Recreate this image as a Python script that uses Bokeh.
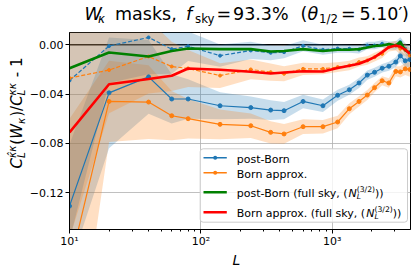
import math
from bokeh.plotting import figure
from bokeh.layouts import column, row
from bokeh.models import Label, BoxAnnotation, Span, FixedTicker, CustomJSTickFormatter, Range1d
from bokeh.embed import file_html
from bokeh.resources import INLINE

# ---------------- data ----------------
ell = [10, 20, 40, 60, 80, 140, 240, 340, 430, 600, 850, 1100, 1350, 1600,
       1850, 2100, 2400, 2700, 3050, 3300, 3600, 3900]

post_born = [-0.131, -0.039, -0.026, -0.044, -0.044, -0.0495, -0.051, -0.053,
             -0.0535, -0.046, -0.0495, -0.041, -0.0365, -0.031, -0.0246, -0.0223,
             -0.019, -0.0174, -0.014, -0.009, -0.013, -0.012]
born = [-0.18, -0.046, -0.0465, -0.0576, -0.060, -0.0646, -0.0657, -0.0711,
        -0.0724, -0.0665, -0.0665, -0.0627, -0.0519, -0.046, -0.0408, -0.0348,
        -0.0292, -0.031, -0.0216, -0.022, -0.0195, -0.020]
post_born_dash = [-0.029, -0.001, 0.006, -0.0035, -0.0012, -0.0088, -0.0046,
                  -0.0065, -0.006, -0.0008, -0.004, -0.003, -0.0032, -0.0038,
                  -0.0006, -0.0006, 0.0008, -0.0006, -0.0006, 0.0022, -0.0032, -0.006]
born_dash = [-0.027, -0.0205, -0.0095, -0.0176, -0.0192, -0.025, -0.020, -0.0222,
             -0.0235, -0.0195, -0.0195, -0.0181, -0.0168, -0.014, -0.0127, -0.010,
             -0.0073, -0.0018, -0.0006, -0.0032, -0.004, -0.0087]
post_born_full = [-0.019, -0.0062, -0.0095, -0.005, -0.003, -0.0035, -0.0035,
                  -0.0054, -0.005, -0.0035, -0.005, -0.004, -0.004, -0.0035,
                  -0.0022, -0.001, -0.0006, 0.0006, -0.0005, 0.0024, -0.0045, -0.0065]
born_full = [-0.0711, -0.032, -0.0278, -0.0251, -0.0192, -0.0203, -0.0219, -0.0233,
             -0.0225, -0.0215, -0.0217, -0.0189, -0.017, -0.0154, -0.0127, -0.010,
             -0.0059, -0.0019, -0.0005, -0.0015, -0.004, -0.0073]

err_post_born = [0.05, 0.045, 0.03, 0.02, 0.016, 0.011, 0.009, 0.008, 0.007, 0.0055,
                 0.005, 0.0045, 0.004, 0.004, 0.0038, 0.0036, 0.0035, 0.0036, 0.004,
                 0.0045, 0.005, 0.006]
err_born = [0.12, 0.033, 0.03, 0.02, 0.016, 0.012, 0.01, 0.009, 0.008, 0.006,
            0.0055, 0.005, 0.0045, 0.0042, 0.004, 0.0038, 0.0037, 0.0038, 0.004,
            0.0045, 0.005, 0.006]
err_post_born_dash = [0.13, 0.03, 0.03, 0.02, 0.012, 0.009, 0.007, 0.006, 0.005,
                      0.0045, 0.004, 0.0035, 0.0033, 0.0032, 0.003, 0.003, 0.003,
                      0.0032, 0.0035, 0.004, 0.0045, 0.005]
err_born_dash = [0.13, 0.035, 0.03, 0.02, 0.015, 0.01, 0.008, 0.007, 0.006, 0.005,
                 0.0045, 0.004, 0.0038, 0.0036, 0.0035, 0.0035, 0.0035, 0.0036,
                 0.004, 0.0045, 0.005, 0.006]

yticks = [-0.12, -0.08, -0.04, 0.0]

legend_labels = ["post-Born", "Born approx.",
                 "post-Born (full sky, (", "Born approx. (full sky, ("]

BLUE = "#1f77b4"
ORANGE = "#ff7f0e"
GREEN = "#008000"
RED = "#ff0000"
FONT = "DejaVu Sans"

# page layout (the page has no margin): title strip, [y-label strip | main plot], x-label strip
TITLE_H = 32
YLAB_W = 26
MAIN_W = 415 - YLAB_W
FRAME_H = 197
BOT = 21
MAIN_H = FRAME_H + BOT
XLAB_H = 267 - TITLE_H - MAIN_H


def blank(w, h):
    f = figure(width=w, height=h, output_backend="svg", toolbar_location=None,
               title=None, x_range=Range1d(0, 1), y_range=Range1d(0, 1),
               x_axis_location=None, y_axis_location=None, min_border=0)
    f.outline_line_color = None
    f.background_fill_color = "white"
    f.border_fill_color = "white"
    f.grid.visible = False
    return f


title_fig = blank(415, TITLE_H)
ylab_fig = blank(YLAB_W, MAIN_H)
xlab_fig = blank(415, XLAB_H)

# ---------------- main figure ----------------
p = figure(width=MAIN_W, height=MAIN_H, x_axis_type="log",
           x_range=Range1d(10, 3945), y_range=Range1d(-0.15, 0.01),
           output_backend="svg", toolbar_location=None, title=None,
           min_border_left=40, min_border_right=5, min_border_top=0,
           min_border_bottom=BOT)
p.background_fill_color = "white"
p.border_fill_color = "white"
p.outline_line_color = "black"
p.outline_line_width = 1


def band(y, e, color):
    lo = [a - b for a, b in zip(y, e)]
    hi = [a + b for a, b in zip(y, e)]
    p.varea(x=ell, y1=lo, y2=hi, fill_color=color, fill_alpha=0.25)


band(post_born, err_post_born, BLUE)
band(born, err_born, ORANGE)
band(post_born_dash, err_post_born_dash, BLUE)
band(born_dash, err_born_dash, ORANGE)

p.add_layout(Span(location=0, dimension="width", line_color="black",
                  line_width=1.5, level="underlay"))

p.line(ell, post_born, line_color=BLUE, line_width=1.2)
p.scatter(ell, post_born, size=4, color=BLUE)
p.line(ell, born, line_color=ORANGE, line_width=1.2)
p.scatter(ell, born, size=4, color=ORANGE)
p.line(ell, post_born_dash, line_color=BLUE, line_width=1.2, line_dash="4 2")
p.scatter(ell, post_born_dash, size=3, color=BLUE)
p.line(ell, born_dash, line_color=ORANGE, line_width=1.2, line_dash="4 2")
p.scatter(ell, born_dash, size=3, color=ORANGE)
p.line(ell, post_born_full, line_color=GREEN, line_width=2.6)
p.line(ell, born_full, line_color=RED, line_width=2.6)

# ---------------- axes ----------------
p.xaxis.formatter = CustomJSTickFormatter(code="""
const e = Math.round(Math.log10(tick));
const sup = {"0":"\u2070","1":"\u00b9","2":"\u00b2","3":"\u00b3","4":"\u2074","-":"\u207b"};
return "10" + String(e).split("").map(c => sup[c]).join("");
""")
p.yaxis.ticker = FixedTicker(ticks=yticks)
p.yaxis.formatter = CustomJSTickFormatter(
    code="return (tick < -1e-9 ? '\u2212' : '') + Math.abs(tick).toFixed(2);")

for ax in (p.xaxis[0], p.yaxis[0]):
    ax.axis_line_color = "black"
    ax.axis_line_width = 1
    ax.major_tick_line_color = "black"
    ax.minor_tick_line_color = "black"
    ax.major_tick_out = 4
    ax.major_tick_in = 0
    ax.minor_tick_out = 2
    ax.minor_tick_in = 0
    ax.major_label_text_font = FONT
    ax.major_label_text_font_size = "11px"
    ax.major_label_text_color = "black"
p.yaxis.minor_tick_line_color = None
p.yaxis.major_label_standoff = 2
p.xaxis.major_label_standoff = 1
p.grid.grid_line_color = "#b0b0b0"
p.grid.grid_line_width = 0.8

# ---------------- text helpers (page coordinates -> frame screen units) ----------------
CW = {' ': 318, '(': 390, ')': 390, ',': 318, '-': 361, '.': 318, '/': 337,
      '%': 950, '=': 838, '\u2032': 300, '\u0302': 0,
      'B': 686, 'C': 698, 'L': 557, 'N': 748, 'W': 989,
      'a': 613, 'b': 635, 'f': 352, 'k': 579, 'l': 278, 'm': 974, 'n': 634,
      'o': 612, 'p': 635, 'r': 411, 's': 521, 't': 392, 'u': 634, 'x': 592,
      'y': 592, '\u03ba': 590, '\u03b8': 602}


def tw(s, size):
    return sum(CW.get(c, 636) for c in s) / 1000.0 * size


def put(fig, org, text, X, Y, size, italic=False, vertical=False):
    """Place text with its alphabetic baseline at page point (X, Y)."""
    fl, fb = org
    d = 0.24 * size  # renderer puts the baseline about one descent lower
    if vertical:
        X = X - d
    else:
        Y = Y - d
    fig.add_layout(Label(x=X - fl, y=fb - Y, x_units="screen", y_units="screen",
                         text=text, angle=math.pi / 2 if vertical else 0.0,
                         text_font=FONT, text_font_size=f"{size}px",
                         text_font_style="italic" if italic else "normal",
                         text_color="black", text_align="left",
                         text_baseline="alphabetic"))


def compose(fig, org, items, X0, Y0, vertical=False):
    t = 0.0
    for group in items:
        if isinstance(group, (int, float)):
            t += group
            continue
        adv = 0.0
        for (s, size, ital, shift) in group:
            lead = len(s) - len(s.lstrip(" "))
            off = tw(s[:lead], size)
            body = s.strip(" ")
            if vertical:
                put(fig, org, body, X0 - shift, Y0 - t - off, size, ital, vertical=True)
            else:
                put(fig, org, body, X0 + t + off, Y0 - shift, size, ital)
            adv = max(adv, tw(s, size))
        t += adv


TITLE_ORG = (0.0, float(TITLE_H))
YLAB_ORG = (0.0, float(TITLE_H + MAIN_H))
MAIN_ORG = (66.0, 229.0)
XLAB_ORG = (0.0, 267.0)

# title: pieces at measured positions
TS, TSS, TB = 17.5, 11.8, 17.5
for (s, X, size, ital, shift) in [
        ("W", 84.0, TS, True, 0), ("\u03ba", 97.5, TSS, True, -3.5),
        ("masks,", 114.5, TS, False, 0), ("f", 185.5, TS, True, 0),
        ("sky", 194.5, TSS, False, -3.5), ("=", 216.0, TS, False, 0),
        ("93.3%", 232.5, TS, False, 0), ("(", 300.0, TS, False, 0),
        ("\u03b8", 307.0, TS, True, 0), ("1/2", 318.5, TSS, False, -3.5),
        ("=", 340.5, TS, False, 0), ("5.10\u2032", 359.0, TS, False, 0),
        (")", 401.5, TS, False, 0)]:
    put(title_fig, TITLE_ORG, s, X, TB - shift, size, ital)

# y axis label (vertical, reads bottom to top)
YS, YSS = 15, 10.5
compose(ylab_fig, YLAB_ORG,
        [[("C", YS, True, 0)],
         [("L", YSS, True, -2.5), ("\u03ba\u0302\u03ba", YSS, True, 6)], 1.0,
         [("(", YS, False, 0)], [("W", YS, True, 0)], [("\u03ba", YSS, True, -2.5)], 1.0,
         [(")", YS, False, 0)], [("/", YS, False, 0)], [("C", YS, True, 0)],
         [("L", YSS, True, -2.5), ("\u03ba\u03ba", YSS, True, 6)], 1.0,
         [(" - 1", YS, False, 0)]], 20.5, 189.0, vertical=True)

# x axis label
put(xlab_fig, XLAB_ORG, "L", 232.0, 263.0, 14, italic=True)

# ---------------- legend ----------------
def pbox(X1, X2, Y1, Y2, **kw):
    fl, fb = MAIN_ORG
    p.add_layout(BoxAnnotation(left=X1 - fl, right=X2 - fl, top=fb - Y1, bottom=fb - Y2,
                               left_units="screen", right_units="screen",
                               top_units="screen", bottom_units="screen", **kw))


pbox(196.7, 404.0, 148.3, 221.7, fill_color="white", fill_alpha=0.8,
     line_color="#cccccc", line_alpha=1.0, line_width=1, border_radius=3)

LS, LSS = 11, 7.7
rows = [157.3, 172.3, 191.7, 211.7]
colors = [BLUE, ORANGE, GREEN, RED]
for i, (yc, col) in enumerate(zip(rows, colors)):
    if i < 2:
        pbox(200, 223.3, yc - 0.7, yc + 0.7, fill_color=col, fill_alpha=1.0, line_alpha=0)
        pbox(209.7, 213.7, yc - 2, yc + 2, fill_color=col, fill_alpha=1.0,
             line_alpha=0, border_radius=2)
        put(p, MAIN_ORG, legend_labels[i], 233.3, yc + 4, LS)
    else:
        pbox(200, 223.3, yc - 1.3, yc + 1.3, fill_color=col, fill_alpha=1.0, line_alpha=0)
        compose(p, MAIN_ORG,
                [[(legend_labels[i], LS, False, 0)], [("N", LS, True, 0)],
                 [("L", LSS, True, -2.5), ("(3/2)", LSS, False, 4.5)],
                 [("))", LS, False, 0)]], 233.3, yc + 4)

layout = column(title_fig, row(ylab_fig, p, spacing=0), xlab_fig, spacing=0)
open("out.html", "w").write(file_html(layout, INLINE))
